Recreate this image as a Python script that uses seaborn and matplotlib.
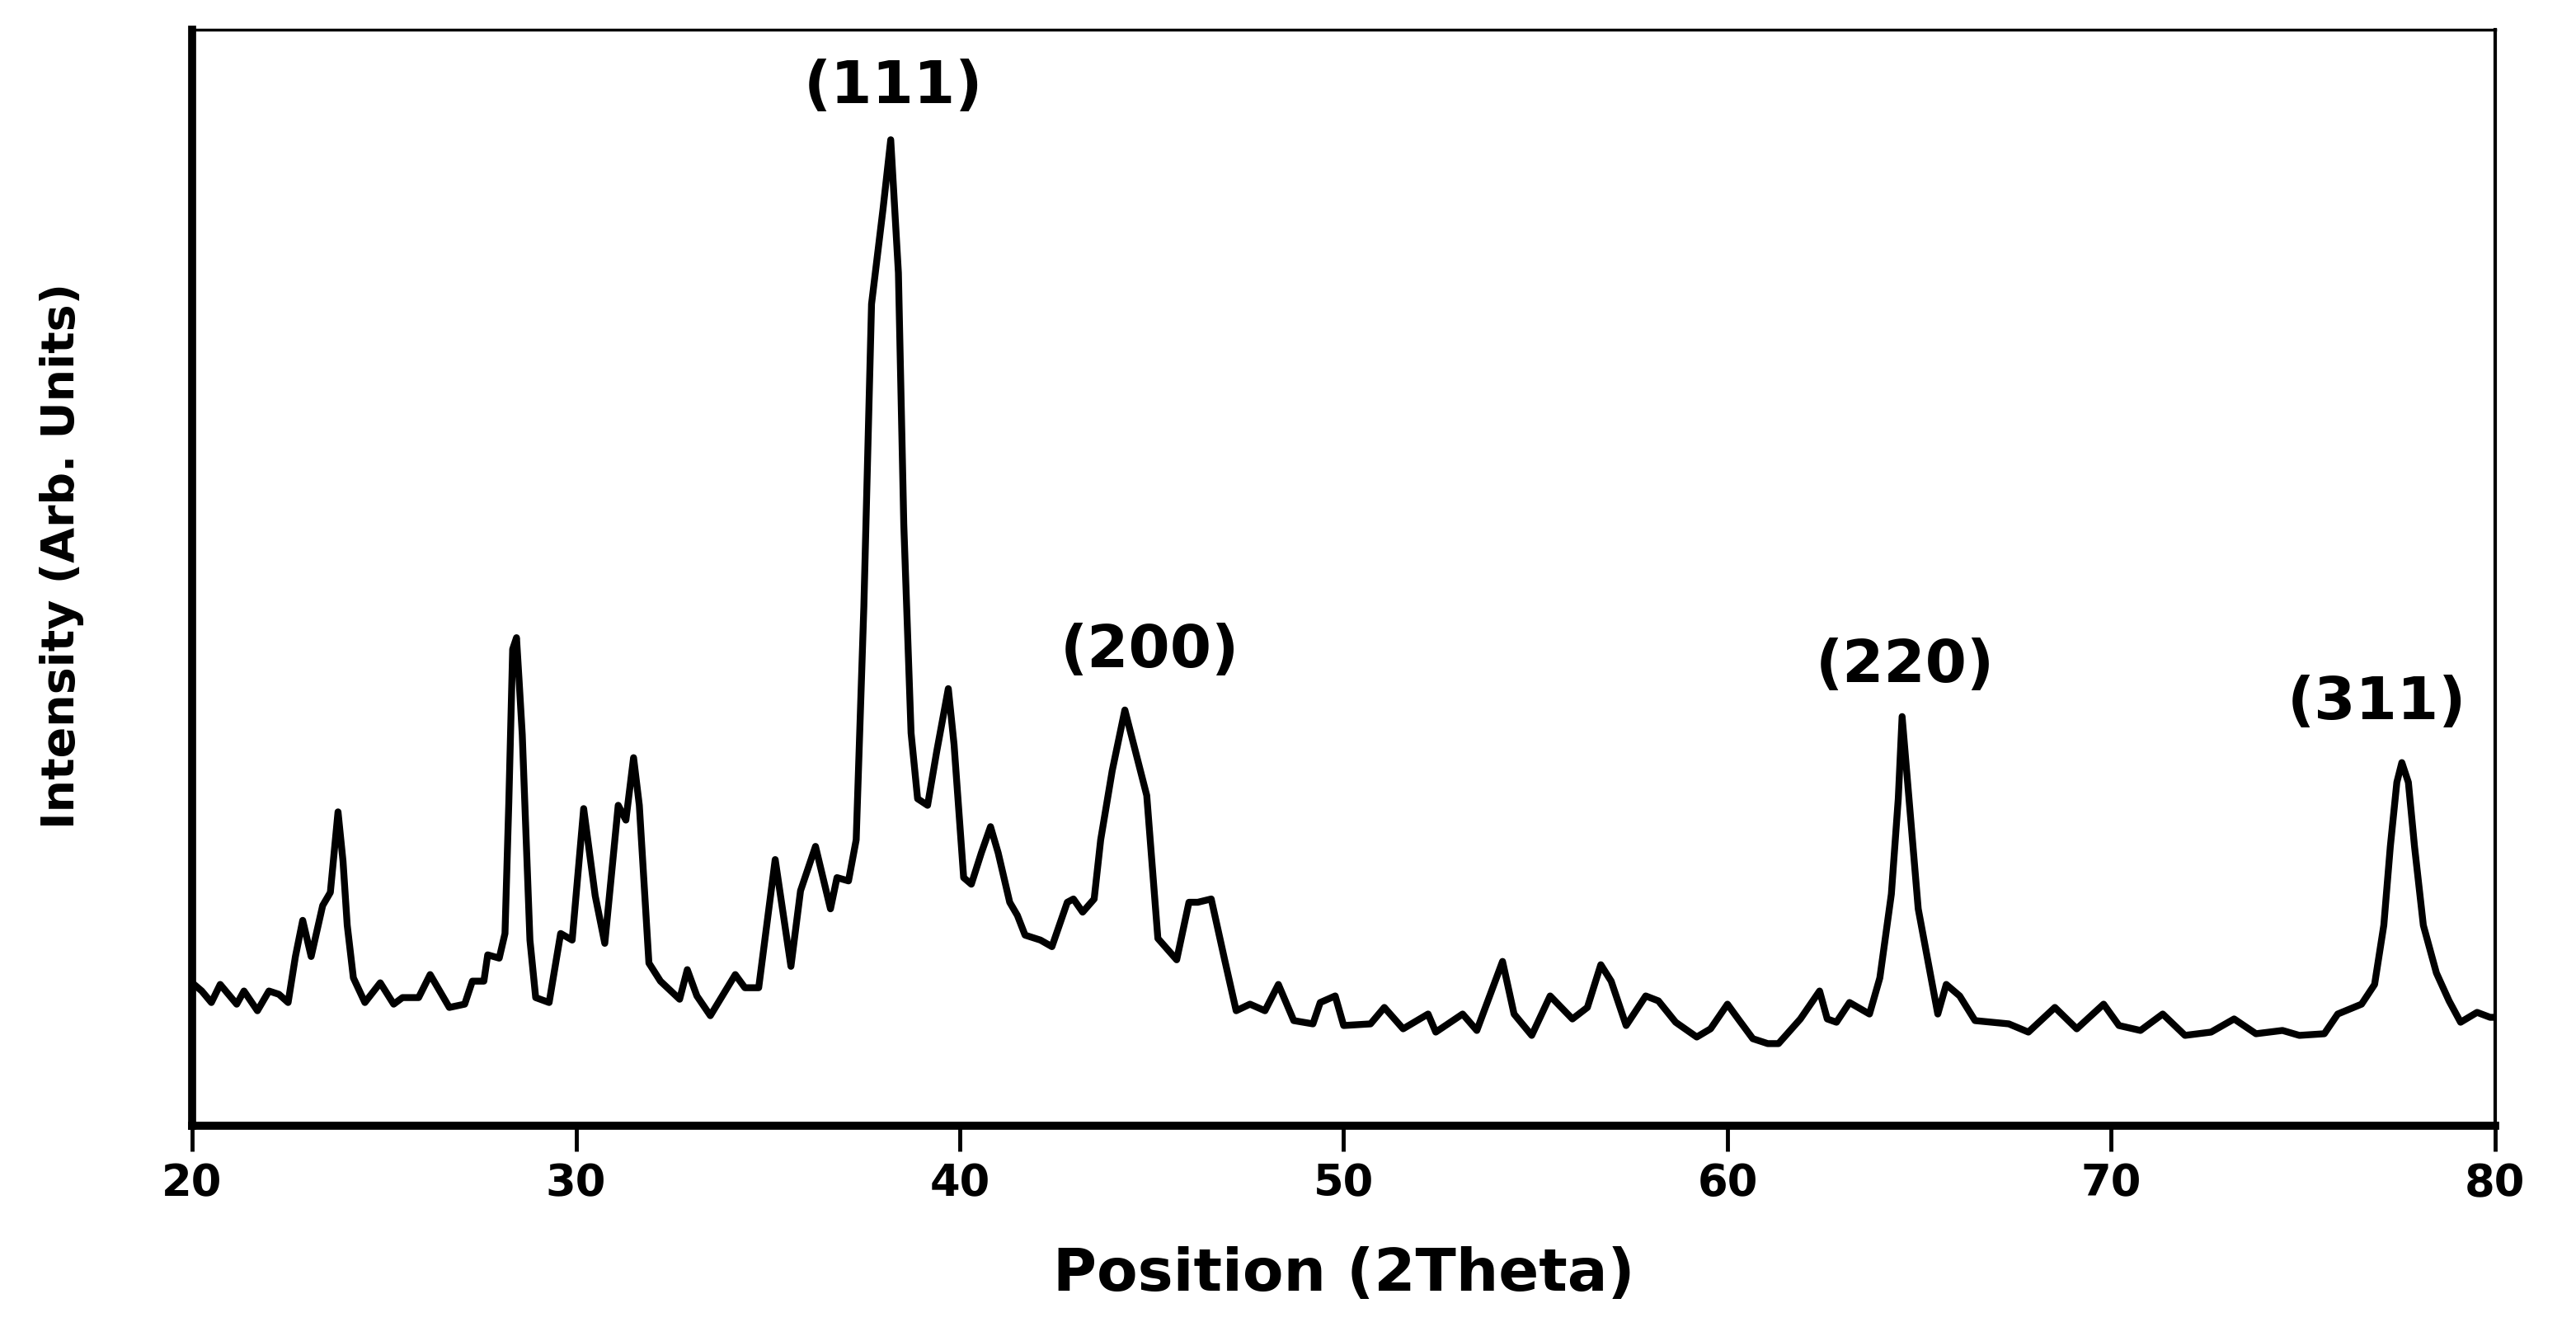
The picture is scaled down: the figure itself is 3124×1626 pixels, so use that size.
import numpy as np
import pandas as pd
import seaborn as sns
import matplotlib
matplotlib.use('Agg')
import matplotlib.pyplot as plt

# XRD pattern (intensity in arbitrary units)
two_theta = [20.0, 20.25, 20.5, 20.73, 21.16, 21.35, 21.7, 22.0, 22.26, 22.5, 22.69, 22.88, 23.1, 23.4, 23.6,
             23.8, 23.93, 24.04, 24.2, 24.5, 24.9, 25.25, 25.48, 25.9, 26.2, 26.7, 27.1, 27.3, 27.6, 27.7,
             28.0, 28.15, 28.25, 28.35, 28.45, 28.52, 28.6, 28.8, 28.95, 29.3, 29.6, 29.9, 30.2, 30.5, 30.75,
             31.1, 31.3, 31.5, 31.65, 31.9, 32.2, 32.7, 32.9, 33.15, 33.5, 34.15, 34.4, 34.76, 35.19, 35.6,
             35.85, 36.24, 36.63, 36.8, 37.1, 37.3, 37.5, 37.7, 38.0, 38.2, 38.4, 38.54, 38.73, 38.9, 39.16,
             39.4, 39.7, 39.85, 40.1, 40.3, 40.56, 40.8, 41.0, 41.3, 41.5, 41.7, 42.1, 42.4, 42.8, 42.96,
             43.2, 43.5, 43.67, 43.97, 44.3, 44.64, 44.87, 45.16, 45.65, 45.97, 46.2, 46.55, 46.9, 47.2, 47.56,
             47.95, 48.3, 48.7, 49.2, 49.39, 49.78, 50.0, 50.7, 51.06, 51.55, 52.2, 52.4, 53.1, 53.47, 54.14,
             54.44, 54.9, 55.38, 55.96, 56.35, 56.7, 56.97, 57.36, 57.87, 58.2, 58.65, 59.2, 59.56, 60.0, 60.28,
             60.66, 61.05, 61.33, 61.9, 62.4, 62.6, 62.84, 63.18, 63.7, 63.97, 64.27, 64.45, 64.55, 64.73, 64.97,
             65.2, 65.48, 65.7, 66.05, 66.45, 67.33, 67.84, 68.53, 69.1, 69.8, 70.2, 70.76, 71.34, 71.92, 72.6,
             73.2, 73.77, 74.46, 74.9, 75.55, 75.9, 76.52, 76.86, 77.1, 77.27, 77.44, 77.57, 77.74, 77.9, 78.13,
             78.47, 78.8, 79.1, 79.53, 79.87, 80.0]
intensity = [87, 82, 75, 86, 74, 82, 70, 82, 80, 75, 103, 125, 103, 134, 142,
             191, 161, 122, 90, 75, 87, 74, 78, 78, 92, 72, 74, 88, 88, 104,
             102, 117, 197, 290, 297, 270, 238, 113, 78, 75, 117, 113, 193, 140, 111,
             195, 186, 224, 195, 99, 88, 77, 95, 79, 67, 92, 84, 84, 162, 97,
             143, 170, 132, 151, 149, 174, 316, 500, 558, 600, 519, 366, 239, 199, 195,
             228, 266, 232, 151, 147, 166, 182, 166, 136, 128, 116, 113, 109, 136, 138,
             130, 138, 174, 216, 253, 222, 201, 114, 101, 136, 136, 138, 101, 70, 74,
             70, 86, 64, 62, 75, 79, 61, 62, 72, 59, 68, 57, 68, 58, 100,
             68, 55, 79, 65, 72, 98, 88, 61, 79, 76, 63, 54, 59, 74, 65,
             53, 50, 50, 65, 82, 65, 63, 75, 68, 90, 141, 199, 249, 199, 132,
             103, 68, 86, 79, 64, 62, 57, 72, 59, 74, 61, 58, 68, 55, 57,
             65, 56, 58, 55, 56, 68, 74, 86, 122, 170, 209, 221, 209, 170, 122,
             93, 76, 63, 69, 66, 66]

peak_labels = ['(111)', '(200)', '(220)', '(311)']
label_x = [38.27, 44.95, 64.63, 76.91]
label_y = [632, 289, 280, 257]

df = pd.DataFrame({'two_theta': two_theta, 'intensity': intensity})

sns.set_style('white')
plt.rcParams['font.family'] = ['DejaVu Sans']
plt.rcParams['text.color'] = 'black'
plt.rcParams['axes.labelcolor'] = 'black'
plt.rcParams['xtick.color'] = 'black'

fig = plt.figure(figsize=(31.24, 16.26), dpi=100)
ax = fig.add_axes([0.0746, 0.1605, 0.8940, 0.8174])

sns.lineplot(data=df, x='two_theta', y='intensity', color='black', linewidth=6,
             ax=ax).lines[0].set_solid_joinstyle('round')

for lab, xx, yy in zip(peak_labels, label_x, label_y):
    ax.text(xx, yy, lab, ha='center', va='center', fontsize=52, fontweight='bold')

ax.set_xlim(20, 80)
ax.set_ylim(0, 667)
ax.set_xticks([20, 30, 40, 50, 60, 70, 80])
ax.set_yticks([])
ax.tick_params(axis='x', direction='out', length=22, width=3.5, labelsize=38, pad=10, bottom=True)
for t in ax.get_xticklabels():
    t.set_fontweight('bold')

ax.set_xlabel('Position (2Theta)', fontsize=52, fontweight='bold', labelpad=36)
ax.set_ylabel('Intensity (Arb. Units)', fontsize=40, fontweight='bold')
ax.yaxis.set_label_coords(-0.047, 0.52)

for side, lw in [('left', 7), ('bottom', 7), ('top', 2.5), ('right', 3)]:
    ax.spines[side].set_visible(True)
    ax.spines[side].set_linewidth(lw)
    ax.spines[side].set_color('black')

fig.savefig('out.png', dpi=100, facecolor='white')
